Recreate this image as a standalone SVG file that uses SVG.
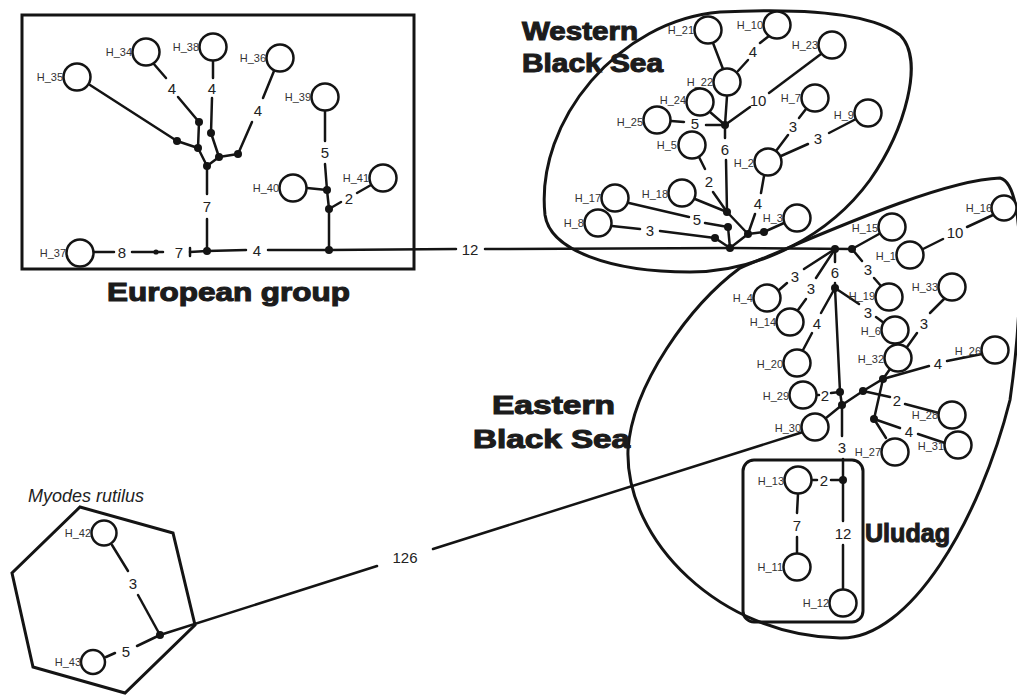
<svg xmlns="http://www.w3.org/2000/svg" width="1017" height="695" viewBox="0 0 1017 695">
  <defs>
    <style>
      .frame { fill: none; stroke: #141414; stroke-width: 3; }
      .e line, .e polyline { stroke: #141414; stroke-width: 2.5; fill: none; stroke-linecap: round; }
      .hap circle { fill: #fff; stroke: #141414; stroke-width: 2.5; }
      .hap text { font-family: "Liberation Sans", Arial, sans-serif; font-size: 11px; fill: #333; text-anchor: end; }
      .mv { fill: #141414; }
      .lab { font-family: "Liberation Sans", Arial, sans-serif; font-size: 15px; fill: #222; text-anchor: middle; dominant-baseline: central; }
      .grp { font-family: "Liberation Sans", Arial, sans-serif; font-weight: bold; font-size: 26px; fill: #1c1c1c; stroke: #1c1c1c; stroke-width: 1.1; }
      .sp { font-family: "Liberation Sans", Arial, sans-serif; font-style: italic; font-size: 18px; fill: #222; }
    </style>
  </defs>
  <rect width="1017" height="695" fill="#fff"/>

  <!-- group outlines -->
  <g id="outlines">
    <rect id="european-box" class="frame" x="22" y="15" width="392" height="254" stroke-width="3.5"/>
    <path id="western-outline" class="frame" d="M 545,215 C 535,120 620,20 720,12 C 800,8 870,12 900,35 C 925,60 905,130 870,180 C 830,235 760,272 690,272 C 610,272 550,250 545,215 Z"/>
    <path id="eastern-outline" class="frame" d="M 740,268 C 820,235 940,180 1000,178 C 1030,185 1020,330 1010,400 C 980,520 910,640 840,638 C 720,636 625,540 628,450 C 632,385 690,305 740,268 Z"/>
    <rect id="uludag-box" class="frame" x="743" y="460" width="120" height="162" rx="11"/>
    <polygon id="myodes-outline" class="frame" stroke-width="2" points="80,507 173,533 195,625 125,693 33,667 12,573"/>
  </g>

  <!-- connectors -->
  <g id="connectors" class="e">
    <!-- European group -->
    <line x1="90" y1="85" x2="177" y2="141"/>
    <line x1="177" y1="141" x2="198" y2="148"/>
    <line x1="153" y1="63" x2="166" y2="78"/>
    <line x1="178" y1="97" x2="199" y2="122"/>
    <line x1="199" y1="122" x2="198" y2="148"/>
    <line x1="198" y1="148" x2="207" y2="166"/>
    <line x1="213" y1="61" x2="213" y2="78"/>
    <line x1="212" y1="98" x2="211" y2="133"/>
    <line x1="211" y1="133" x2="219" y2="157"/>
    <line x1="219" y1="157" x2="207" y2="166"/>
    <line x1="219" y1="157" x2="238" y2="154"/>
    <line x1="238" y1="154" x2="252" y2="122"/>
    <line x1="263" y1="98" x2="274" y2="71"/>
    <line x1="207" y1="166" x2="207" y2="194"/>
    <line x1="207" y1="219" x2="207" y2="251"/>
    <line x1="94" y1="252" x2="114" y2="252"/>
    <line x1="132" y1="252" x2="163" y2="252"/>
    <line x1="190" y1="252" x2="207" y2="251"/>
    <line x1="190" y1="248" x2="190" y2="256"/>
    <line x1="207" y1="251" x2="246" y2="250"/>
    <line x1="268" y1="250" x2="329" y2="250"/>
    <line x1="329" y1="250" x2="456" y2="249"/>
    <line x1="485" y1="249" x2="730" y2="248"/>
    <line x1="329" y1="250" x2="329" y2="209"/>
    <line x1="329" y1="209" x2="327" y2="190"/>
    <line x1="307" y1="188" x2="327" y2="190"/>
    <line x1="327" y1="190" x2="325" y2="164"/>
    <line x1="325" y1="141" x2="325" y2="111"/>
    <line x1="329" y1="209" x2="341" y2="202"/>
    <line x1="357" y1="193" x2="371" y2="185"/>

    <!-- Western Black Sea -->
    <line x1="713" y1="43" x2="723" y2="69"/>
    <line x1="769" y1="36" x2="760" y2="43"/>
    <line x1="748" y1="60" x2="738" y2="71"/>
    <line x1="727" y1="96" x2="725" y2="125"/>
    <line x1="710" y1="112" x2="725" y2="125"/>
    <line x1="671" y1="121" x2="684" y2="122"/>
    <line x1="706" y1="125" x2="725" y2="125"/>
    <line x1="821" y1="54" x2="769" y2="93"/>
    <line x1="750" y1="107" x2="725" y2="125"/>
    <line x1="725" y1="125" x2="725" y2="138"/>
    <line x1="726" y1="160" x2="727" y2="212"/>
    <line x1="699" y1="157" x2="705" y2="169"/>
    <line x1="713" y1="192" x2="727" y2="212"/>
    <line x1="695" y1="199" x2="727" y2="212"/>
    <line x1="629" y1="203" x2="689" y2="217"/>
    <line x1="705" y1="223" x2="728" y2="227"/>
    <line x1="727" y1="212" x2="748" y2="234"/>
    <line x1="728" y1="227" x2="730" y2="248"/>
    <line x1="612" y1="226" x2="640" y2="229"/>
    <line x1="660" y1="231" x2="715" y2="238"/>
    <line x1="715" y1="238" x2="730" y2="248"/>
    <line x1="730" y1="248" x2="748" y2="234"/>
    <line x1="748" y1="234" x2="755" y2="214"/>
    <line x1="761" y1="193" x2="764" y2="176"/>
    <polyline points="748,234 764,232 784,223"/>
    <line x1="776" y1="151" x2="788" y2="135"/>
    <line x1="799" y1="118" x2="806" y2="109"/>
    <line x1="781" y1="156" x2="808" y2="144"/>
    <line x1="829" y1="133" x2="856" y2="119"/>
    <line x1="730" y1="248" x2="852" y2="249"/>

    <!-- Eastern Black Sea -->
    <line x1="852" y1="249" x2="879" y2="234"/>
    <line x1="852" y1="249" x2="862" y2="261"/>
    <line x1="874" y1="278" x2="881" y2="286"/>
    <line x1="923" y1="249" x2="943" y2="239"/>
    <line x1="967" y1="227" x2="993" y2="215"/>
    <line x1="835" y1="249" x2="804" y2="269"/>
    <line x1="787" y1="283" x2="779" y2="290"/>
    <line x1="835" y1="249" x2="816" y2="278"/>
    <line x1="806" y1="299" x2="798" y2="310"/>
    <line x1="835" y1="249" x2="835" y2="262"/>
    <line x1="835" y1="283" x2="835" y2="288"/>
    <line x1="835" y1="288" x2="821" y2="313"/>
    <line x1="812" y1="333" x2="803" y2="350"/>
    <line x1="835" y1="288" x2="859" y2="304"/>
    <line x1="876" y1="317" x2="884" y2="323"/>
    <polyline points="835,288 840,392 842,405 842,436"/>
    <line x1="843" y1="459" x2="843" y2="480"/>
    <line x1="817" y1="395" x2="819" y2="395"/>
    <line x1="831" y1="393" x2="840" y2="392"/>
    <polyline points="826,418 842,405 863,391 883,379 929,366"/>
    <line x1="947" y1="361" x2="982" y2="354"/>
    <line x1="863" y1="391" x2="890" y2="397"/>
    <line x1="905" y1="404" x2="939" y2="413"/>
    <line x1="883" y1="379" x2="890" y2="369"/>
    <line x1="883" y1="379" x2="874" y2="419"/>
    <line x1="874" y1="419" x2="886" y2="438"/>
    <line x1="874" y1="419" x2="900" y2="428"/>
    <line x1="918" y1="434" x2="945" y2="443"/>
    <line x1="907" y1="347" x2="917" y2="333"/>
    <line x1="930" y1="313" x2="944" y2="299"/>

    <!-- Uludag -->
    <line x1="812" y1="480" x2="817" y2="480"/>
    <line x1="831" y1="480" x2="843" y2="480"/>
    <line x1="843" y1="480" x2="843" y2="521"/>
    <line x1="843" y1="545" x2="843" y2="589"/>
    <line x1="798" y1="494" x2="797" y2="513"/>
    <line x1="797" y1="537" x2="797" y2="553"/>

    <!-- Myodes rutilus -->
    <line x1="112" y1="545" x2="128" y2="571"/>
    <line x1="138" y1="595" x2="160" y2="635"/>
    <line x1="106" y1="657" x2="115" y2="653"/>
    <line x1="137" y1="646" x2="160" y2="635"/>
    <line x1="160" y1="635" x2="377" y2="566"/>
    <line x1="433" y1="549" x2="803" y2="432"/>
  </g>

  <!-- mutation counts -->
  <g id="mutation-counts" class="lab">
    <text x="172" y="88">4</text>
    <text x="212" y="88">4</text>
    <text x="258" y="110">4</text>
    <text x="207" y="206">7</text>
    <text x="122" y="252">8</text>
    <text x="179" y="252">7</text>
    <text x="257" y="250">4</text>
    <text x="470" y="249">12</text>
    <text x="325" y="152">5</text>
    <text x="349" y="198">2</text>

    <text x="753" y="51">4</text>
    <text x="695" y="123">5</text>
    <text x="758" y="100">10</text>
    <text x="725" y="149">6</text>
    <text x="709" y="181">2</text>
    <text x="697" y="219">5</text>
    <text x="650" y="230">3</text>
    <text x="758" y="203">4</text>
    <text x="793" y="126">3</text>
    <text x="818" y="138">3</text>

    <text x="868" y="269">3</text>
    <text x="955" y="232">10</text>
    <text x="795" y="276">3</text>
    <text x="811" y="288">3</text>
    <text x="835" y="272">6</text>
    <text x="817" y="323">4</text>
    <text x="868" y="312">3</text>
    <text x="842" y="447">3</text>
    <text x="825" y="395">2</text>
    <text x="938" y="363">4</text>
    <text x="897" y="400">2</text>
    <text x="909" y="431">4</text>
    <text x="924" y="323">3</text>

    <text x="824" y="480">2</text>
    <text x="843" y="533">12</text>
    <text x="797" y="525">7</text>

    <text x="133" y="583">3</text>
    <text x="126" y="651">5</text>
    <text x="405" y="557">126</text>
  </g>

  <!-- median vectors -->
  <g id="median-vectors" class="mv">
    <circle id="mv-e1" cx="199" cy="122" r="4"/>
    <circle id="mv-e2" cx="211" cy="133" r="4"/>
    <circle id="mv-e3" cx="177" cy="141" r="4"/>
    <circle id="mv-e4" cx="198" cy="148" r="4"/>
    <circle id="mv-e5" cx="207" cy="166" r="4"/>
    <circle id="mv-e6" cx="219" cy="157" r="4"/>
    <circle id="mv-e7" cx="238" cy="154" r="4"/>
    <circle id="mv-e8" cx="207" cy="251" r="4"/>
    <circle id="mv-e9" cx="329" cy="250" r="4"/>
    <circle id="mv-e10" cx="329" cy="209" r="4"/>
    <circle id="mv-e11" cx="327" cy="190" r="4"/>
    <circle id="mv-e12" cx="156" cy="252" r="2.6"/>
    <circle id="mv-w1" cx="725" cy="125" r="4"/>
    <circle id="mv-w2" cx="727" cy="212" r="4"/>
    <circle id="mv-w3" cx="728" cy="227" r="4"/>
    <circle id="mv-w4" cx="715" cy="238" r="4"/>
    <circle id="mv-w5" cx="730" cy="248" r="4"/>
    <circle id="mv-w6" cx="748" cy="234" r="4"/>
    <circle id="mv-w7" cx="764" cy="232" r="4"/>
    <circle id="mv-b1" cx="835" cy="249" r="4"/>
    <circle id="mv-b2" cx="852" cy="249" r="4"/>
    <circle id="mv-b3" cx="835" cy="288" r="4"/>
    <circle id="mv-b4" cx="840" cy="392" r="4"/>
    <circle id="mv-b5" cx="842" cy="405" r="4"/>
    <circle id="mv-b6" cx="863" cy="391" r="4"/>
    <circle id="mv-b7" cx="883" cy="379" r="4"/>
    <circle id="mv-b8" cx="874" cy="419" r="4"/>
    <circle id="mv-u1" cx="843" cy="480" r="4"/>
    <circle id="mv-m1" cx="160" cy="635" r="4"/>
  </g>

  <!-- haplotypes -->
  <g class="hap">
    <g id="H_34"><circle cx="146" cy="52" r="13.5"/><text x="132" y="56">H_34</text></g>
    <g id="H_38"><circle cx="213" cy="47" r="13.5"/><text x="199" y="51">H_38</text></g>
    <g id="H_35"><circle cx="77" cy="77" r="13.5"/><text x="63" y="81">H_35</text></g>
    <g id="H_36"><circle cx="280" cy="58" r="13.5"/><text x="266" y="62">H_36</text></g>
    <g id="H_39"><circle cx="325" cy="97" r="13.5"/><text x="311" y="101">H_39</text></g>
    <g id="H_40"><circle cx="293" cy="188" r="13.5"/><text x="279" y="192">H_40</text></g>
    <g id="H_41"><circle cx="383" cy="178" r="13.5"/><text x="369" y="182">H_41</text></g>
    <g id="H_37"><circle cx="80" cy="253" r="13.5"/><text x="66" y="257">H_37</text></g>

    <g id="H_21"><circle cx="708" cy="30" r="13.5"/><text x="694" y="34">H_21</text></g>
    <g id="H_10"><circle cx="777" cy="25" r="13.5"/><text x="763" y="29">H_10</text></g>
    <g id="H_23"><circle cx="832" cy="45" r="13.5"/><text x="818" y="49">H_23</text></g>
    <g id="H_22"><circle cx="727" cy="82" r="13.5"/><text x="713" y="86">H_22</text></g>
    <g id="H_24"><circle cx="700" cy="102" r="13.5"/><text x="686" y="104">H_24</text></g>
    <g id="H_25"><circle cx="657" cy="120" r="13.5"/><text x="643" y="126">H_25</text></g>
    <g id="H_7"><circle cx="815" cy="98" r="13.5"/><text x="801" y="102">H_7</text></g>
    <g id="H_9"><circle cx="868" cy="113" r="13.5"/><text x="854" y="119">H_9</text></g>
    <g id="H_5"><circle cx="692" cy="145" r="13.5"/><text x="677" y="149">H_5</text></g>
    <g id="H_2"><circle cx="768" cy="162" r="13.5"/><text x="754" y="167">H_2</text></g>
    <g id="H_17"><circle cx="615" cy="198" r="13.5"/><text x="601" y="202">H_17</text></g>
    <g id="H_8"><circle cx="598" cy="223" r="13.5"/><text x="584" y="227">H_8</text></g>
    <g id="H_18"><circle cx="682" cy="193" r="13.5"/><text x="668" y="198">H_18</text></g>
    <g id="H_3"><circle cx="797" cy="218" r="13.5"/><text x="783" y="222">H_3</text></g>

    <g id="H_15"><circle cx="892" cy="227" r="13.5"/><text x="878" y="232">H_15</text></g>
    <g id="H_1"><circle cx="910" cy="255" r="13.5"/><text x="896" y="260">H_1</text></g>
    <g id="H_16"><circle cx="1004" cy="208" r="12.5"/><text x="992" y="212">H_16</text></g>
    <g id="H_19"><circle cx="889" cy="297" r="13.5"/><text x="875" y="300">H_19</text></g>
    <g id="H_33"><circle cx="952" cy="287" r="13.5"/><text x="938" y="291">H_33</text></g>
    <g id="H_4"><circle cx="767" cy="298" r="13.5"/><text x="753" y="302">H_4</text></g>
    <g id="H_14"><circle cx="790" cy="322" r="13.5"/><text x="776" y="326">H_14</text></g>
    <g id="H_20"><circle cx="797" cy="363" r="13.5"/><text x="783" y="368">H_20</text></g>
    <g id="H_29"><circle cx="803" cy="395" r="13.5"/><text x="789" y="400">H_29</text></g>
    <g id="H_30"><circle cx="815" cy="427" r="13.5"/><text x="801" y="432">H_30</text></g>
    <g id="H_6"><circle cx="895" cy="330" r="13.5"/><text x="881" y="335">H_6</text></g>
    <g id="H_32"><circle cx="898" cy="358" r="13.5"/><text x="884" y="363">H_32</text></g>
    <g id="H_26"><circle cx="995" cy="350" r="13.5"/><text x="981" y="355">H_26</text></g>
    <g id="H_28"><circle cx="952" cy="415" r="13.5"/><text x="938" y="419">H_28</text></g>
    <g id="H_31"><circle cx="958" cy="445" r="13.5"/><text x="944" y="450">H_31</text></g>
    <g id="H_27"><circle cx="895" cy="452" r="13.5"/><text x="881" y="456">H_27</text></g>

    <g id="H_13"><circle cx="798" cy="480" r="13.5"/><text x="784" y="485">H_13</text></g>
    <g id="H_11"><circle cx="797" cy="567" r="13.5"/><text x="783" y="571">H_11</text></g>
    <g id="H_12"><circle cx="843" cy="603" r="13.5"/><text x="829" y="607">H_12</text></g>

    <g id="H_42"><circle cx="104" cy="533" r="12.5"/><text x="91" y="537">H_42</text></g>
    <g id="H_43"><circle cx="93" cy="662" r="12"/><text x="81" y="666">H_43</text></g>
  </g>

  <!-- group names -->
  <g id="group-names">
    <text class="grp" x="107" y="301" textLength="243" lengthAdjust="spacingAndGlyphs">European group</text>
    <text class="grp" x="522" y="40" textLength="116" lengthAdjust="spacingAndGlyphs">Western</text>
    <text class="grp" x="522" y="72" textLength="141" lengthAdjust="spacingAndGlyphs">Black Sea</text>
    <text class="grp" x="492" y="414" font-size="27" textLength="123" lengthAdjust="spacingAndGlyphs">Eastern</text>
    <text class="grp" x="473" y="448" font-size="27" textLength="157" lengthAdjust="spacingAndGlyphs">Black Sea</text>
    <text class="grp" x="865" y="542" textLength="85" lengthAdjust="spacingAndGlyphs">Uludag</text>
    <text class="sp" x="28" y="502">Myodes rutilus</text>
  </g>
</svg>
